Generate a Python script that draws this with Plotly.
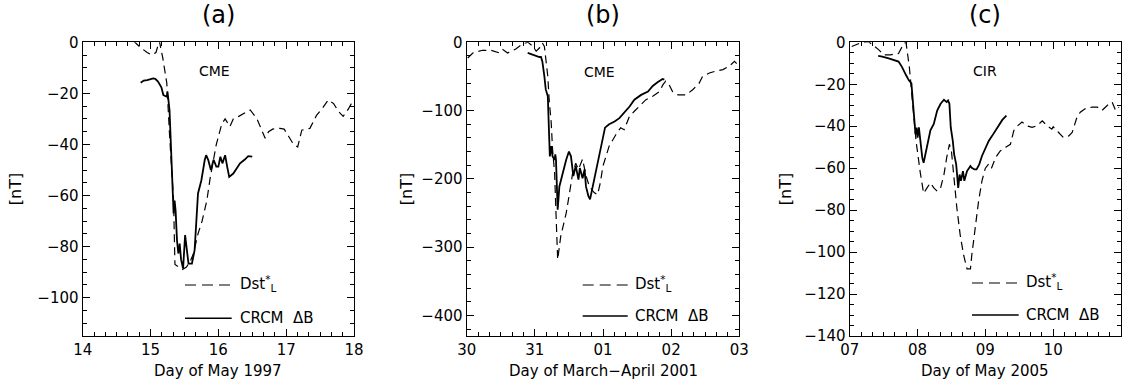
import plotly.graph_objects as go

# ---------------- Panel (a): May 1997 (CME) ----------------
a_dst_x = [14.75, 14.85, 14.95, 15.02, 15.08, 15.13, 15.18, 15.24, 15.28, 15.34, 15.36, 15.42, 15.47, 15.53, 15.58,
           15.63, 15.70, 15.76, 15.83, 15.88, 15.93, 15.97, 16.05, 16.10, 16.17, 16.22, 16.30, 16.37, 16.47, 16.57,
           16.69, 16.74, 16.80, 16.91, 16.97, 17.04, 17.10, 17.17, 17.23, 17.30, 17.35, 17.45, 17.53, 17.62, 17.70,
           17.77, 17.84, 17.92, 17.99]
a_dst_y = [0.5, -2, -4, -5, -4, 0.5, -6, -16, -36, -62, -87, -88, -89, -88, -86,
           -83, -75, -70, -62, -53, -45, -40, -32, -30, -33, -30, -29, -28, -26.5, -30,
           -37.6, -35, -34, -33.7, -34, -37, -39.6, -41, -34.4, -34, -33.7, -28.5, -26, -22.6, -24,
           -27, -29, -26, -22.6]
a_crcm_x = [14.855, 14.90, 14.95, 15.00, 15.04, 15.07, 15.11, 15.16, 15.19, 15.24, 15.25, 15.28, 15.30, 15.33,
            15.34, 15.355, 15.37, 15.39, 15.41, 15.43, 15.45, 15.48, 15.51, 15.53, 15.56, 15.61, 15.65, 15.70,
            15.75, 15.80, 15.82, 15.85, 15.89, 15.93, 15.97, 16.00, 16.03, 16.06, 16.10, 16.13, 16.16, 16.22,
            16.28, 16.32, 16.39, 16.44, 16.50]
a_crcm_y = [-15.8, -15, -14.8, -14.3, -14.1, -14.3, -15.4, -17.6, -20.7, -21.3, -19.3, -26.5, -42, -62,
            -67, -62, -66, -77.5, -82.7, -78.8, -85, -88.6, -75.5, -80, -86.7, -86.7, -81.4, -59.2,
            -54, -46, -44.2, -46, -50, -46, -48.7, -48.7, -44.8, -47.4, -44.2, -48.7, -52.7, -51.4,
            -48.7, -47.4, -45.9, -44.6, -44.8]

# ---------------- Panel (b): March-April 2001 (CME) ----------------
# x in days since 30 March 00 UT
b_dst_x = [0.015, 0.09, 0.23, 0.36, 0.48, 0.53, 0.60, 0.72, 0.82, 0.90, 0.97, 1.02, 1.07, 1.11, 1.14, 1.16,
           1.19, 1.21, 1.24, 1.26, 1.29, 1.31, 1.335, 1.38, 1.46, 1.51, 1.555, 1.60, 1.64, 1.70, 1.75, 1.80,
           1.87, 1.92, 1.96, 2.00, 2.04, 2.09, 2.19, 2.26, 2.31, 2.39, 2.46, 2.53, 2.63, 2.73, 2.83, 2.88,
           2.92, 2.97, 3.02, 3.10, 3.22, 3.32, 3.41, 3.46, 3.56, 3.66, 3.76, 3.85, 3.93, 3.98]
b_dst_y = [-23, -15.6, -11.7, -11.7, -15.6, -10.7, -15.6, -9.8, -2.4, 0, -5.9, -13, -8, -1, -6, -25,
           -50, -84, -118, -157, -191, -250, -318, -284, -250, -220, -191, -177, -186, -171, -195, -211,
           -220, -223, -206, -181, -167, -152, -135, -125, -128, -108, -101, -94, -84, -79, -72, -62,
           -57, -62, -72, -77, -77, -69, -60, -50, -45, -42, -40, -35, -28, -33]
b_crcm_x = [0.895, 0.97, 1.02, 1.066, 1.09, 1.11, 1.14, 1.16, 1.19, 1.20, 1.21, 1.22, 1.24, 1.25, 1.26,
            1.29, 1.30, 1.31, 1.335, 1.36, 1.41, 1.46, 1.50, 1.53, 1.565, 1.60, 1.64, 1.66, 1.70, 1.73,
            1.75, 1.785, 1.81, 1.85, 1.90, 1.95, 2.00, 2.03, 2.09, 2.17, 2.24, 2.31, 2.39, 2.46, 2.56,
            2.66, 2.73, 2.80, 2.875, 2.90]
b_crcm_y = [-15.6, -18, -20.5, -21.5, -21.5, -28, -50, -69, -79, -108, -152, -167, -152, -162, -167,
            -172, -164, -172, -245, -211, -191, -172, -160, -167, -196, -181, -201, -184, -199, -186,
            -211, -225, -230, -211, -191, -167, -142, -125, -120, -116, -111, -103, -94, -84, -77,
            -72, -64, -58.5, -53.7, -54.6]

# ---------------- Panel (c): May 2005 (CIR) ----------------
c_dst_x = [7.03, 7.18, 7.28, 7.43, 7.50, 7.60, 7.72, 7.80, 7.83, 7.88, 7.93, 7.98, 8.04, 8.09, 8.14, 8.19,
           8.24, 8.29, 8.34, 8.39, 8.43, 8.47, 8.50, 8.53, 8.58, 8.63, 8.68, 8.73, 8.78, 8.80, 8.85, 8.90,
           8.95, 9.00, 9.05, 9.09, 9.15, 9.22, 9.30, 9.37, 9.42, 9.47, 9.54, 9.61, 9.69, 9.76, 9.84, 9.91,
           9.98, 10.00, 10.08, 10.15, 10.23, 10.28, 10.35, 10.40, 10.47, 10.57, 10.65, 10.72, 10.80, 10.87,
           10.92, 10.97]
c_dst_y = [-2, 0, 0.3, -3.6, -6, -6, -5.3, -0.4, 0, -12, -30, -47.5, -62, -72, -69.4, -67,
           -69.4, -71, -69.4, -63, -55, -48.6, -51.8, -63, -79, -92, -101.5, -108, -108, -101.5, -88.7, -75.8,
           -66, -60, -58, -60, -55, -51.8, -50, -48.6, -42, -40, -38, -39.8, -40.5, -39.8, -37.4, -39.8,
           -41.4, -40.3, -43, -45.4, -44.6, -43, -35.8, -33.3, -31.7, -30.9, -30.9, -32.5, -30, -28.5,
           -32.5, -30.9]
c_crcm_x = [7.42, 7.48, 7.575, 7.67, 7.72, 7.77, 7.80, 7.83, 7.87, 7.91, 7.93, 7.95, 7.97, 7.985, 8.00,
            8.02, 8.04, 8.07, 8.09, 8.115, 8.155, 8.19, 8.24, 8.29, 8.34, 8.39, 8.43, 8.45, 8.47, 8.49,
            8.52, 8.54, 8.57, 8.60, 8.62, 8.64, 8.67, 8.69, 8.73, 8.78, 8.80, 8.84, 8.87, 8.91, 8.95,
            9.00, 9.05, 9.10, 9.15, 9.20, 9.25, 9.31]
c_crcm_y = [-6.5, -6.8, -7.7, -8.5, -9.2, -11.7, -14, -15.6, -18, -19.6, -27.7, -37.4, -43.8, -40.6, -45.4,
            -40.6, -47, -55, -57.4, -53.4, -47, -42, -38.9, -32.5, -29.3, -27.4, -28.5, -27.7, -29.3, -40.6,
            -47, -53.4, -58.2, -69.4, -63, -66, -61.4, -66, -61.4, -59, -59.8, -60.6, -60.6, -58.2, -54.2,
            -50.2, -47, -44.6, -42.1, -39.8, -37, -35]

panel_titles = ["(a)", "(b)", "(c)"]
event_labels = ["CME", "CME", "CIR"]
event_pos = [(15.95, -11.3), (1.946, -43), (9.0, -13.8)]
x_titles = ["Day of May 1997", "Day of March\u2212April 2001", "Day of May 2005"]
x_ranges = [[14, 18], [0, 4], [7, 11]]
x_tickvals = [[14, 15, 16, 17, 18], [0, 1, 2, 3, 4], [7, 8, 9, 10, 11]]
x_ticktext = [["14", "15", "16", "17", "18"], ["30", "31", "01", "02", "03"], ["07", "08", "09", "10", "11"]]
y_ranges = [[-115, 0], [-430, 0], [-140, 0]]
y_dtick = [20, 100, 20]
y_minor = [5, 20, 5]
legend_names = ["Dst<sup>*</sup><sub>L</sub>", "CRCM  \u0394B"]

W, H = 1128, 381
ML, MR, MT, MB = 8, 4, 6, 6          # small non-zero margins
x_px = [(82.7, 354.0), (466.7, 739.3), (849.7, 1121.0)]
y_top, y_bot = 42.3, 336.0
ytitle_px = [15, 406, 785]
# legend sample positions in pixels: x0, x1, text x, y dashed, y solid
leg_px = [(185.0, 231.7, 238.0, 285.0, 318.3),
          (582.7, 627.7, 633.0, 285.0, 316.0),
          (972.0, 1018.7, 1024.3, 283.0, 315.0)]

data = [(a_dst_x, a_dst_y, a_crcm_x, a_crcm_y),
        (b_dst_x, b_dst_y, b_crcm_x, b_crcm_y),
        (c_dst_x, c_dst_y, c_crcm_x, c_crcm_y)]

FONT = "DejaVu Sans"
fig = go.Figure()
shapes = []
annotations = []


def px(x):
    return (x - ML) / (W - ML - MR)


def py(y):
    return (H - MB - y) / (H - MT - MB)


for i in range(3):
    xa = "x" if i == 0 else f"x{i+1}"
    ya = "y" if i == 0 else f"y{i+1}"
    dx, dy, cx, cy = data[i]
    fig.add_trace(go.Scatter(x=dx, y=dy, mode="lines", xaxis=xa, yaxis=ya,
                             line=dict(color="black", width=1.2, dash="8px,5px"),
                             showlegend=False, name="Dst*L"))
    fig.add_trace(go.Scatter(x=cx, y=cy, mode="lines", xaxis=xa, yaxis=ya,
                             line=dict(color="black", width=1.8),
                             showlegend=False, name="CRCM \u0394B"))
    axis_common = dict(showgrid=False, zeroline=False, showline=True, linecolor="black", linewidth=1.3,
                       mirror="allticks", ticks="inside", ticklen=7, tickwidth=1, tickcolor="black",
                       automargin=False, tickfont=dict(family=FONT, size=15, color="black"))
    xkey = "xaxis" if i == 0 else f"xaxis{i+1}"
    ykey = "yaxis" if i == 0 else f"yaxis{i+1}"
    fig.update_layout(**{
        xkey: dict(domain=[px(x_px[i][0]), px(x_px[i][1])], range=x_ranges[i], anchor=ya, tickmode="array",
                   tickvals=x_tickvals[i], ticktext=x_ticktext[i],
                   minor=dict(dtick=1/6, tick0=x_ranges[i][0], ticks="inside", ticklen=4,
                              tickwidth=1, tickcolor="black"),
                   **axis_common),
        ykey: dict(domain=[py(y_bot), py(y_top)], range=y_ranges[i], anchor=xa, dtick=y_dtick[i], tick0=0,
                   minor=dict(dtick=y_minor[i], tick0=0, ticks="inside", ticklen=4,
                              tickwidth=1, tickcolor="black"),
                   **axis_common),
    })
    x0, x1, xt, yd1, yd2 = leg_px[i]
    shapes.append(dict(type="line", xref="paper", yref="paper", x0=px(x0), x1=px(x1), y0=py(yd1), y1=py(yd1),
                       line=dict(color="black", width=1.2, dash="11px,6px")))
    shapes.append(dict(type="line", xref="paper", yref="paper", x0=px(x0), x1=px(x1), y0=py(yd2), y1=py(yd2),
                       line=dict(color="black", width=1.5)))
    annotations.append(dict(xref="paper", yref="paper", x=px(xt), y=py(yd1), xanchor="left", yanchor="middle",
                            text=legend_names[0], showarrow=False, yshift=2,
                            font=dict(family=FONT, size=15, color="black")))
    annotations.append(dict(xref="paper", yref="paper", x=px(xt), y=py(yd2), xanchor="left", yanchor="middle",
                            text=legend_names[1], showarrow=False,
                            font=dict(family=FONT, size=15, color="black")))
    annotations.append(dict(xref=xa, yref=ya, x=event_pos[i][0], y=event_pos[i][1], text=event_labels[i],
                            showarrow=False, font=dict(family=FONT, size=14, color="black")))
    annotations.append(dict(xref="paper", yref="paper", x=px((x_px[i][0] + x_px[i][1]) / 2), y=py(15),
                            text=panel_titles[i], showarrow=False, xanchor="center", yanchor="middle",
                            font=dict(family=FONT, size=24, color="black")))
    annotations.append(dict(xref="paper", yref="paper", x=px((x_px[i][0] + x_px[i][1]) / 2), y=py(371),
                            text=x_titles[i], showarrow=False, xanchor="center", yanchor="middle",
                            font=dict(family=FONT, size=15, color="black")))
    annotations.append(dict(xref="paper", yref="paper", x=px(ytitle_px[i]), y=py((y_top + y_bot) / 2),
                            text="[nT]", textangle=-90, showarrow=False, xanchor="center", yanchor="middle",
                            font=dict(family=FONT, size=16, color="black")))

fig.update_layout(template="none", width=W, height=H,
                  margin=dict(l=ML, r=MR, t=MT, b=MB, autoexpand=False),
                  paper_bgcolor="white", plot_bgcolor="white",
                  shapes=shapes, annotations=annotations, showlegend=False)
post = """
document.body.style.margin='0';
var gd=document.getElementById('{plot_id}');
Plotly.relayout(gd, {'xaxis.ticklen':7,'xaxis2.ticklen':7,'xaxis3.ticklen':7,
                     'yaxis.ticklen':7,'yaxis2.ticklen':7,'yaxis3.ticklen':7});
"""
fig.write_html("out.html", config={"displayModeBar": False}, post_script=post)
